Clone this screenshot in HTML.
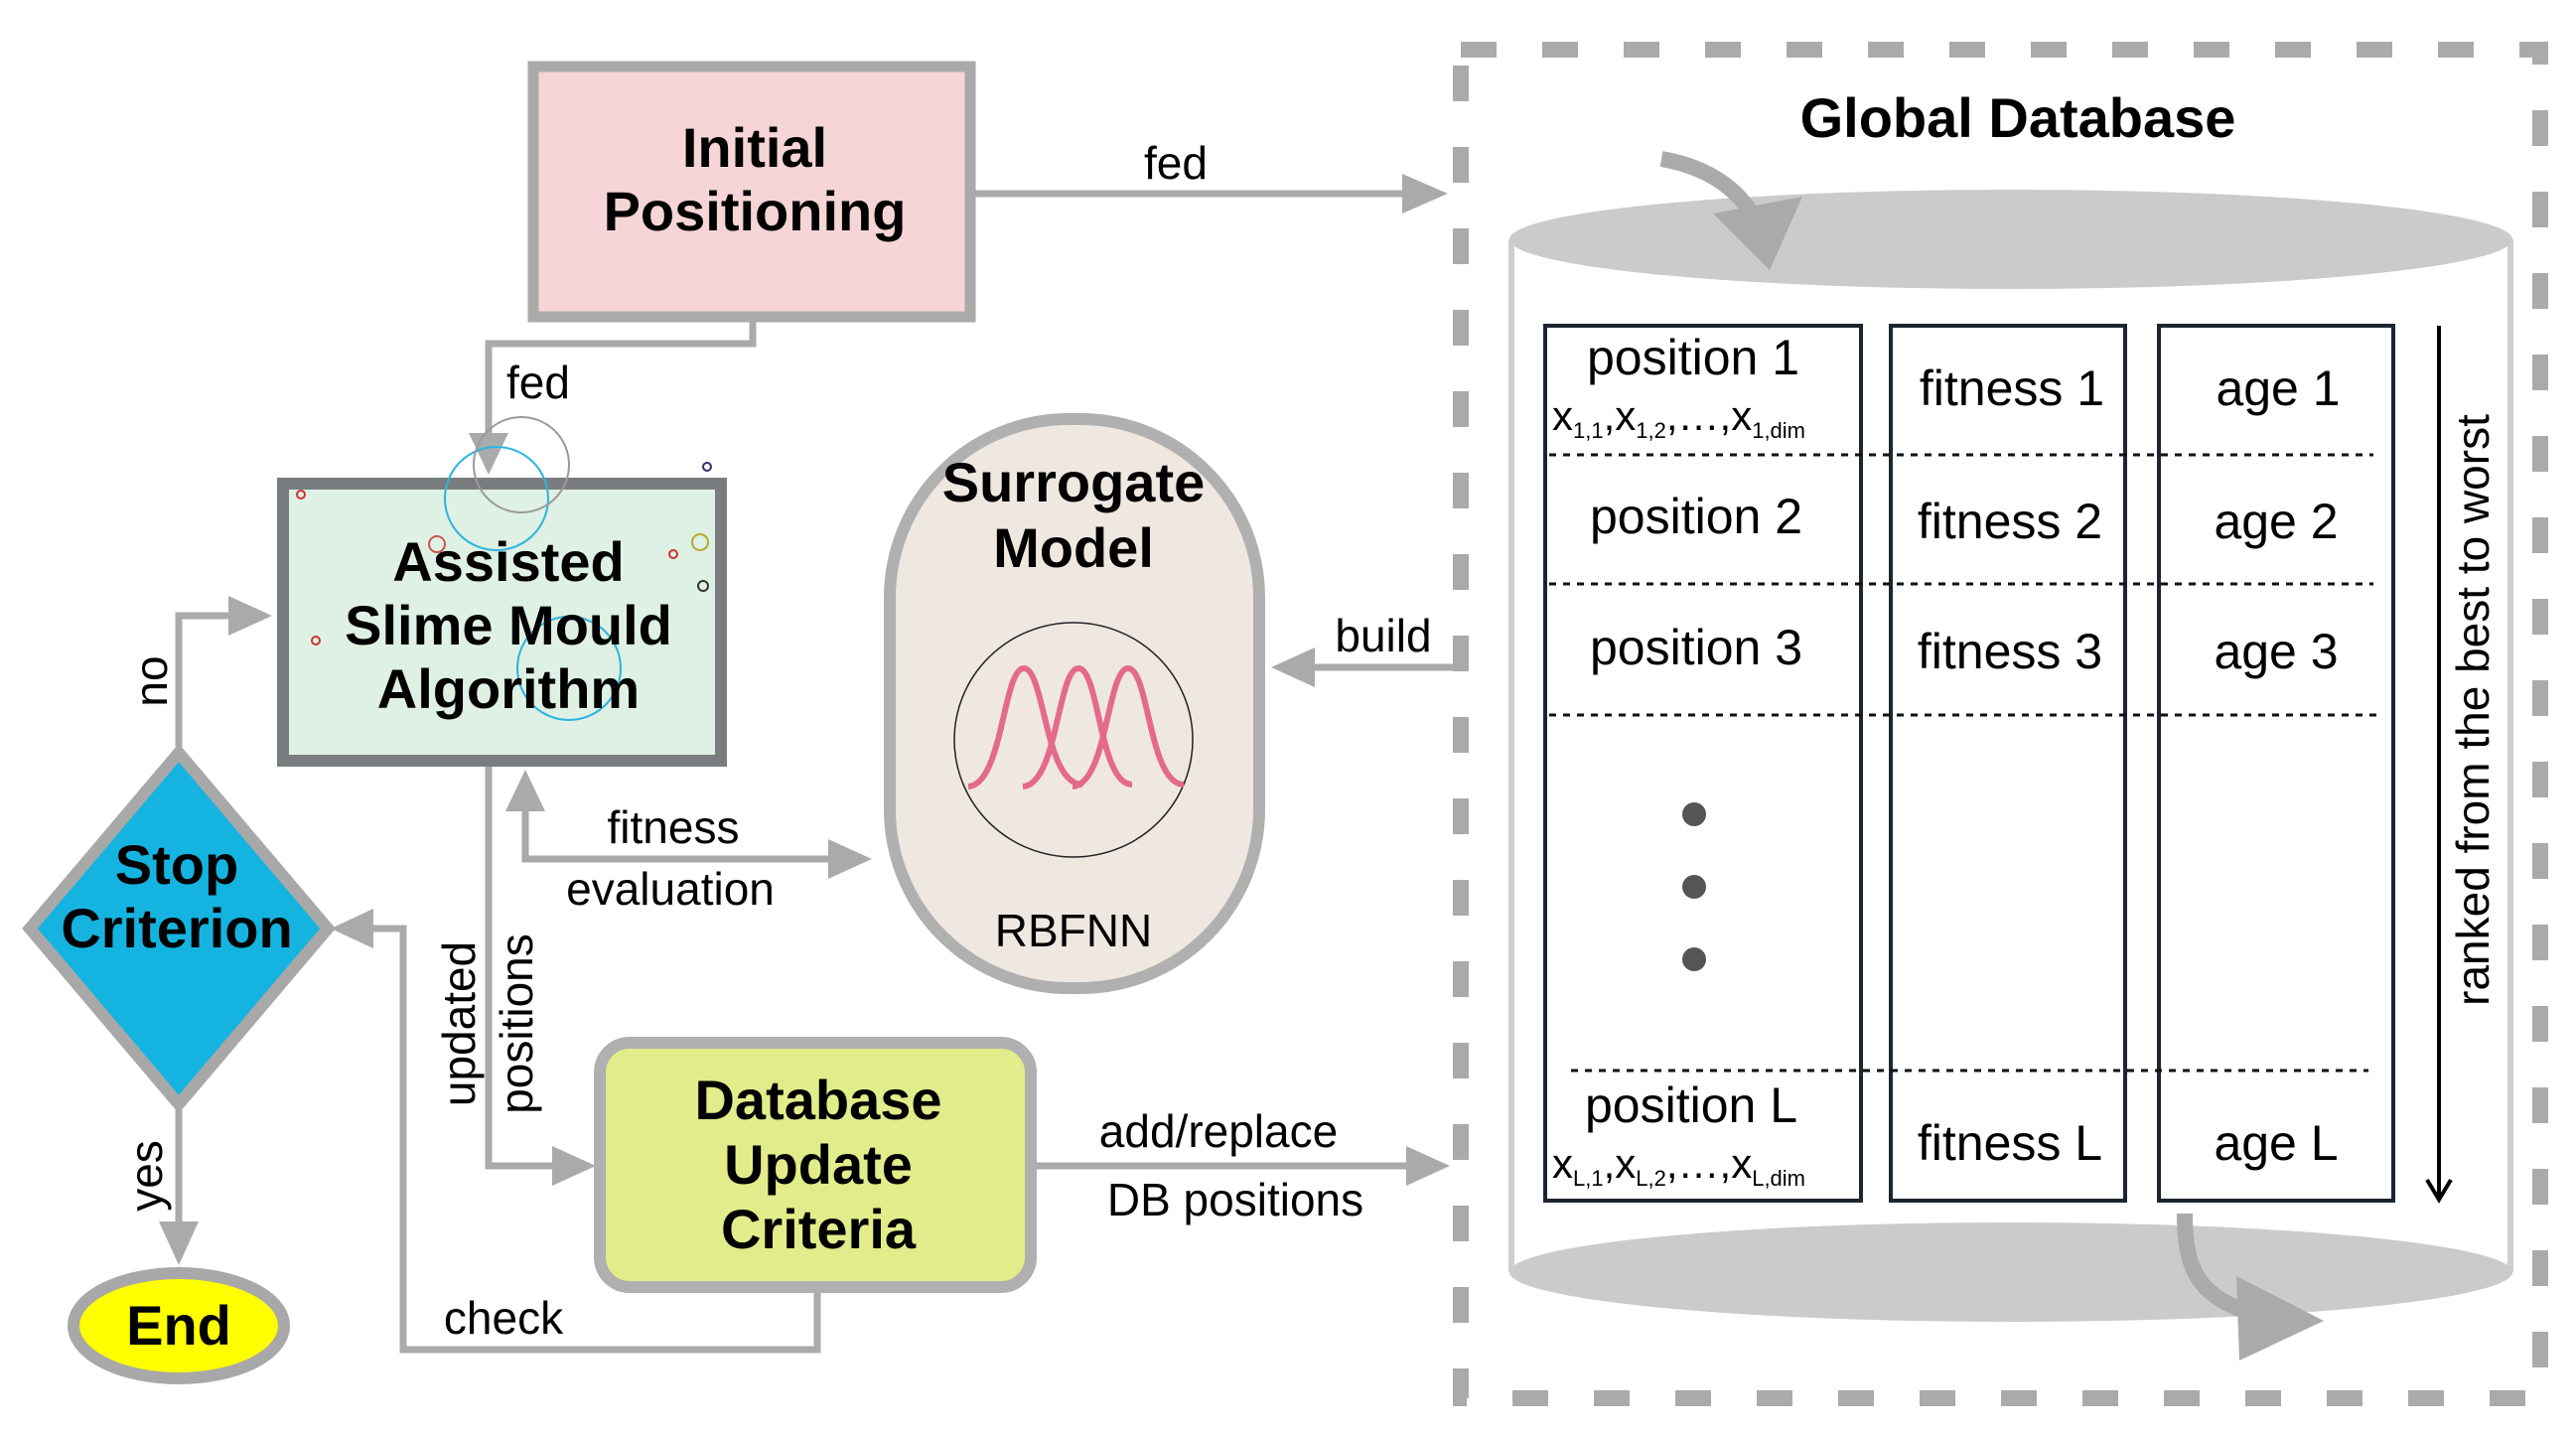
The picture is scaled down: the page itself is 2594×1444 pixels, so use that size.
<!DOCTYPE html>
<html><head><meta charset="utf-8"><style>
html,body{margin:0;padding:0;background:#fff;}
svg{display:block;}
text{font-family:"Liberation Sans",Arial,sans-serif;}
.b{font-weight:bold;fill:#000;}
</style></head><body>
<svg width="2594" height="1444" viewBox="0 0 2594 1444" xmlns="http://www.w3.org/2000/svg">
<defs>
<marker id="ah" markerWidth="10" markerHeight="10" refX="9" refY="5" orient="auto" markerUnits="userSpaceOnUse" viewBox="0 0 10 10" style="overflow:visible">
</marker>
</defs>
<g fill="none" stroke="#a9abab" stroke-width="7">
<!-- fed right -->
<line x1="981" y1="195" x2="1415" y2="195"/>
<!-- fed down -->
<polyline points="758,324 758,346 492,346 492,440"/>
<!-- build -->
<line x1="1468" y1="672" x2="1320" y2="672"/>
<!-- fitness evaluation -->
<polyline points="529,815 529,865 838,865"/>
<!-- updated positions -->
<polyline points="492,772 492,1174 558,1174"/>
<!-- add/replace -->
<line x1="1044" y1="1174" x2="1418" y2="1174"/>
<!-- check -->
<polyline points="823,1302 823,1359 406,1359 406,935 372,935"/>
<!-- no -->
<polyline points="180,752 180,620 234,620"/>
<!-- yes -->
<line x1="180" y1="1118" x2="180" y2="1232"/>
</g>
<g fill="#a9abab">
<polygon points="1458,195 1412,175 1412,215"/>
<polygon points="492,478 472,436 512,436"/>
<polygon points="1280,672 1324,652 1324,692"/>
<polygon points="529,775 509,817 549,817"/>
<polygon points="878,865 834,845 834,885"/>
<polygon points="600,1174 556,1154 556,1194"/>
<polygon points="1460,1174 1416,1154 1416,1194"/>
<polygon points="333,935 376,915 376,955"/>
<polygon points="274,620 230,600 230,640"/>
<polygon points="180,1274 160,1230 200,1230"/>
</g>
<text x="1184" y="180" font-size="46" text-anchor="middle">fed</text>
<text x="510" y="401" font-size="46">fed</text>
<text x="1393" y="656" font-size="46" text-anchor="middle">build</text>
<text x="678" y="849" font-size="46" text-anchor="middle">fitness</text>
<text x="675" y="911" font-size="46" text-anchor="middle">evaluation</text>
<text x="1227" y="1155" font-size="46" text-anchor="middle">add/replace</text>
<text x="1244" y="1224" font-size="46" text-anchor="middle">DB positions</text>
<text x="507" y="1343" font-size="46" text-anchor="middle">check</text>
<text transform="translate(478,1031) rotate(-90)" font-size="46" text-anchor="middle">updated</text>
<text transform="translate(536,1031) rotate(-90)" font-size="46" text-anchor="middle">positions</text>
<text transform="translate(168,686) rotate(-90)" font-size="46" text-anchor="middle">no</text>
<text transform="translate(163,1184) rotate(-90)" font-size="46" text-anchor="middle">yes</text>

<!-- Initial Positioning -->
<rect x="537" y="67" width="440" height="252" fill="#f5d5d5" stroke="#aaa" stroke-width="11"/>
<text x="760" y="168" font-size="56" class="b" text-anchor="middle">Initial</text>
<text x="760" y="232" font-size="56" class="b" text-anchor="middle">Positioning</text>

<!-- ASMA -->
<rect x="285" y="487" width="441" height="279" fill="#dff0e4" stroke="#7a7d7f" stroke-width="12"/>
<g fill="none" stroke-width="2">
<circle cx="500" cy="502" r="52" stroke="#2ab5e0"/>
<circle cx="573" cy="673" r="52" stroke="#2ab5e0"/>
<circle cx="525" cy="468" r="48" stroke="#999"/>
<circle cx="303" cy="498" r="4" stroke="#c33"/>
<circle cx="678" cy="558" r="4" stroke="#c33"/>
<circle cx="705" cy="546" r="8" stroke="#b8a830"/>
<circle cx="708" cy="590" r="5" stroke="#333"/>
<circle cx="318" cy="645" r="4" stroke="#c33"/>
<circle cx="440" cy="548" r="8" stroke="#c55"/>
<circle cx="712" cy="470" r="4" stroke="#336"/>
</g>
<text x="512" y="585" font-size="56" class="b" text-anchor="middle">Assisted</text>
<text x="512" y="649" font-size="56" class="b" text-anchor="middle">Slime Mould</text>
<text x="512" y="713" font-size="56" class="b" text-anchor="middle">Algorithm</text>

<!-- Surrogate -->
<rect x="896" y="422" width="372" height="573" rx="180" fill="#efe8e1" stroke="#b0b0b0" stroke-width="12"/>
<text x="1081" y="505" font-size="56" class="b" text-anchor="middle">Surrogate</text>
<text x="1081" y="571" font-size="56" class="b" text-anchor="middle">Model</text>
<ellipse cx="1081" cy="745" rx="120" ry="118" fill="none" stroke="#222" stroke-width="1.5"/>
<g fill="none" stroke="#e46a8a" stroke-width="6">
<path d="M975,792 C1010,790 1010,673 1031,673 C1052,673 1052,790 1090,790"/>
<path d="M1030,792 C1065,790 1065,673 1086,673 C1107,673 1107,790 1140,790"/>
<path d="M1080,792 C1115,790 1115,673 1136,673 C1157,673 1157,790 1192,790"/>
</g>
<text x="1081" y="953" font-size="46" text-anchor="middle">RBFNN</text>

<!-- DUC -->
<rect x="604" y="1050" width="434" height="246" rx="30" fill="#e2ec8a" stroke="#b0b0b0" stroke-width="12"/>
<text x="824" y="1127" font-size="56" class="b" text-anchor="middle">Database</text>
<text x="824" y="1192" font-size="56" class="b" text-anchor="middle">Update</text>
<text x="824" y="1257" font-size="56" class="b" text-anchor="middle">Criteria</text>

<!-- Stop -->
<polygon points="180,758 330,935 180,1112 30,935" fill="#15b4e0" stroke="#a8a8a8" stroke-width="12"/>
<text x="178" y="890" font-size="56" class="b" text-anchor="middle">Stop</text>
<text x="178" y="954" font-size="56" class="b" text-anchor="middle">Criterion</text>

<!-- End -->
<ellipse cx="180" cy="1335" rx="106" ry="53" fill="#ffff00" stroke="#a8a8a8" stroke-width="12"/>
<text x="180" y="1354" font-size="56" class="b" text-anchor="middle">End</text>

<!-- Global DB -->
<rect x="1471" y="50" width="1087" height="1358" fill="none" stroke="#a9abab" stroke-width="16" stroke-dasharray="36,46"/>
<text x="2032" y="138" font-size="56" class="b" text-anchor="middle">Global Database</text>
<line x1="1522" y1="241" x2="1522" y2="1281" stroke="#cfcfcf" stroke-width="6"/>
<line x1="2528" y1="241" x2="2528" y2="1281" stroke="#cfcfcf" stroke-width="6"/>
<ellipse cx="2025" cy="241" rx="505" ry="50" fill="#cbcbcb"/>
<ellipse cx="2025" cy="1281" rx="505" ry="50" fill="#cbcbcb"/>
<path d="M1673,160 C1730,170 1765,200 1780,250" fill="none" stroke="#a9abab" stroke-width="16"/>
<polygon points="1725,215 1815,198 1782,272" fill="#a9abab"/>
<path d="M2200,1222 C2200,1290 2220,1310 2290,1330" fill="none" stroke="#a9abab" stroke-width="16"/>
<polygon points="2252,1285 2340,1330 2255,1370" fill="#a9abab"/>

<g fill="#fff" stroke="#1c2630" stroke-width="4">
<rect x="1556" y="328" width="318" height="881"/>
<rect x="1904" y="328" width="236" height="881"/>
<rect x="2174" y="328" width="236" height="881"/>
</g>
<g stroke="#111" stroke-width="3" stroke-dasharray="7,7">
<line x1="1560" y1="458" x2="2390" y2="458"/>
<line x1="1560" y1="588" x2="2390" y2="588"/>
<line x1="1560" y1="720" x2="2395" y2="720"/>
<line x1="1582" y1="1078" x2="2385" y2="1078"/>
</g>
<g font-size="50" text-anchor="middle">
<text x="1705" y="377">position 1</text>
<text x="1708" y="537">position 2</text>
<text x="1708" y="669">position 3</text>
<text x="1703" y="1130">position L</text>
<text x="2026" y="408">fitness 1</text>
<text x="2024" y="542">fitness 2</text>
<text x="2024" y="673">fitness 3</text>
<text x="2024" y="1168">fitness L</text>
<text x="2294" y="408">age 1</text>
<text x="2292" y="542">age 2</text>
<text x="2292" y="673">age 3</text>
<text x="2292" y="1168">age L</text>
</g>
<text x="1563" y="433" font-size="42">x<tspan font-size="22" dy="8">1,1</tspan><tspan dy="-8">,x</tspan><tspan font-size="22" dy="8">1,2</tspan><tspan dy="-8">,…,x</tspan><tspan font-size="22" dy="8">1,dim</tspan></text>
<text x="1563" y="1186" font-size="42">x<tspan font-size="22" dy="8">L,1</tspan><tspan dy="-8">,x</tspan><tspan font-size="22" dy="8">L,2</tspan><tspan dy="-8">,…,x</tspan><tspan font-size="22" dy="8">L,dim</tspan></text>
<g fill="#555"><circle cx="1706" cy="820" r="12"/><circle cx="1706" cy="893" r="12"/><circle cx="1706" cy="966" r="12"/></g>
<line x1="2456" y1="328" x2="2456" y2="1205" stroke="#000" stroke-width="4"/>
<polyline points="2444,1188 2456,1208 2468,1188" fill="none" stroke="#000" stroke-width="4"/>
<text transform="translate(2506,715) rotate(-90)" font-size="46" text-anchor="middle">ranked from the best to worst</text>
</svg>
</body></html>
